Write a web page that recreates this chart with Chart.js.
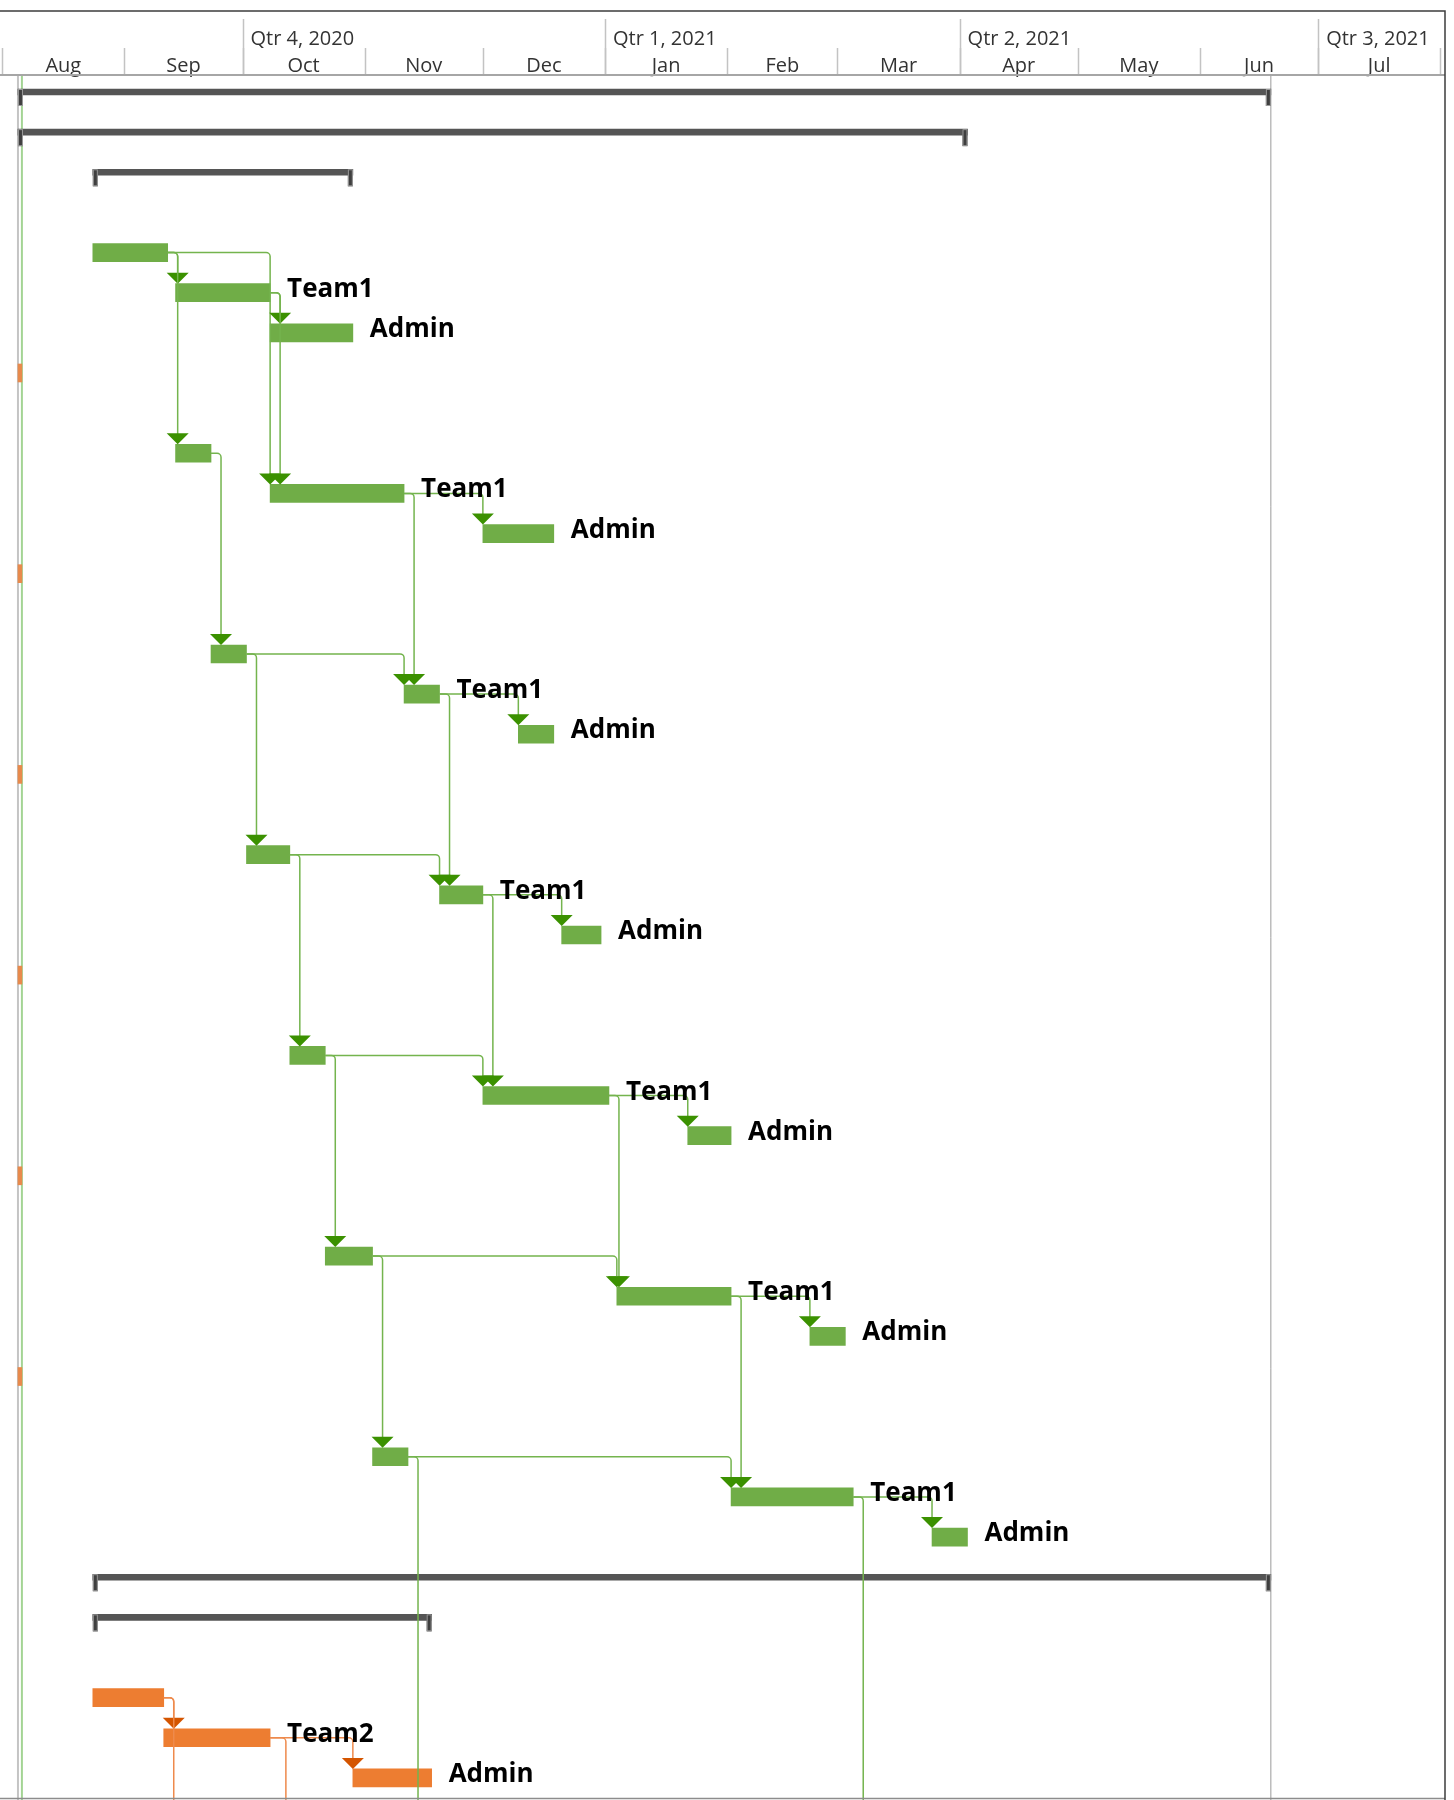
<!DOCTYPE html>
<html>
<head>
<meta charset="utf-8">
<title>Gantt</title>
<script src="https://cdn.jsdelivr.net/npm/chart.js@4.4.0/dist/chart.umd.min.js"></script>
<style>
  html, body { margin: 0; padding: 0; background: #fff; }
  #wrap { width: 1454px; height: 1800px; }
</style>
</head>
<body>
<div id="wrap"><canvas id="gantt" width="1454" height="1800"></canvas></div>
<script>
// timescale
const timelineStart = '2020-08-01';
const monthStarts = ['2020-08-01', '2020-09-01', '2020-10-01', '2020-11-01', '2020-12-01', '2021-01-01',
                     '2021-02-01', '2021-03-01', '2021-04-01', '2021-05-01', '2021-06-01', '2021-07-01', '2021-08-01'];
const monthLabels = ['Aug', 'Sep', 'Oct', 'Nov', 'Dec', 'Jan', 'Feb', 'Mar', 'Apr', 'May', 'Jun', 'Jul'];
const quarterStarts = ['2020-10-01', '2021-01-01', '2021-04-01', '2021-07-01'];
const quarterLabels = ['Qtr 4, 2020', 'Qtr 1, 2021', 'Qtr 2, 2021', 'Qtr 3, 2021'];

const projectStart = '2020-08-05';
const statusDate = '2020-08-06';
const projectFinish = '2021-06-19';

// summary tasks
const summaryRows  = [0, 1, 2, 37, 38];
const summaryStart = ['2020-08-05', '2020-08-05', '2020-08-24', '2020-08-24', '2020-08-24'];
const summaryEnd   = ['2021-06-19', '2021-04-03', '2020-10-29', '2021-06-19', '2020-11-18'];

// Team1 tasks (green), rows 48/49 lie below the visible area
const team1Rows  = [4, 5, 6, 9, 10, 11, 14, 15, 16, 19, 20, 21, 24, 25, 26, 29, 30, 31, 34, 35, 36, 48, 49];
const team1Start = ['2020-08-24', '2020-09-14', '2020-10-08',
                    '2020-09-14', '2020-10-08', '2020-12-01',
                    '2020-09-23', '2020-11-11', '2020-12-10',
                    '2020-10-02', '2020-11-20', '2020-12-21',
                    '2020-10-13', '2020-12-01', '2021-01-22',
                    '2020-10-22', '2021-01-04', '2021-02-22',
                    '2020-11-03', '2021-02-02', '2021-03-25',
                    '2020-11-12', '2021-03-05'];
const team1End   = ['2020-09-12', '2020-10-08', '2020-10-29',
                    '2020-09-23', '2020-11-11', '2020-12-19',
                    '2020-10-02', '2020-11-20', '2020-12-19',
                    '2020-10-13', '2020-12-01', '2020-12-31',
                    '2020-10-22', '2021-01-02', '2021-02-02',
                    '2020-11-03', '2021-02-02', '2021-03-03',
                    '2020-11-12', '2021-03-05', '2021-04-03',
                    '2020-11-21', '2021-04-06'];
const team1Labels = ['', 'Team1', 'Admin', '', 'Team1', 'Admin', '', 'Team1', 'Admin', '', 'Team1', 'Admin',
                     '', 'Team1', 'Admin', '', 'Team1', 'Admin', '', 'Team1', 'Admin', '', ''];
const team1Links = [[4, 5], [4, 9], [4, 10], [5, 6], [5, 10], [9, 14], [10, 11], [10, 15],
                    [14, 15], [14, 19], [15, 16], [15, 20], [19, 20], [19, 24], [20, 21], [20, 25],
                    [24, 25], [24, 29], [25, 26], [25, 30], [29, 30], [29, 34], [30, 31], [30, 35],
                    [34, 35], [34, 48], [35, 36], [35, 49]];

// Team2 tasks (orange)
const team2Rows   = [40, 41, 42, 45, 46];
const team2Start  = ['2020-08-24', '2020-09-11', '2020-10-29', '2020-09-11', '2020-10-12'];
const team2End    = ['2020-09-11', '2020-10-08', '2020-11-18', '2020-09-22', '2020-11-02'];
const team2Labels = ['', 'Team2', 'Admin', '', ''];
const team2Links  = [[40, 41], [40, 45], [41, 42], [41, 46]];

// small orange markers at project start
const markerRows  = [7, 12, 17, 22, 27, 32];
const markerStart = ['2020-08-05', '2020-08-05', '2020-08-05', '2020-08-05', '2020-08-05', '2020-08-05'];
const markerEnd   = ['2020-08-06', '2020-08-06', '2020-08-06', '2020-08-06', '2020-08-06', '2020-08-06'];

const T0 = Date.parse(timelineStart);
function day(s) { return (Date.parse(s) - T0) / 864e5; }

function toBars(rows, starts, ends) {
  return rows.map((r, i) => ({ x: [day(starts[i]), day(ends[i])], y: r }));
}

const TASK_H = 18;
const SUM_H = 6;
const FONT = '"Open Sans", "Noto Sans", sans-serif';

const team1 = { rows: team1Rows, start: team1Start, end: team1End, labels: team1Labels, links: team1Links,
                line: '#74b44e', arrow: '#3b9100' };
const team2 = { rows: team2Rows, start: team2Start, end: team2End, labels: team2Labels, links: team2Links,
                line: '#ee8a4c', arrow: '#d45500' };

const headerPlugin = {
  id: 'header',
  afterDraw(chart) {
    const ctx = chart.ctx, x = chart.scales.x, area = chart.chartArea;
    ctx.save();
    // month dividers and labels
    ctx.strokeStyle = '#c3c3c3';
    ctx.lineWidth = 1.5;
    monthStarts.forEach(m => {
      const px = Math.round(x.getPixelForValue(day(m))) + 0.5;
      ctx.beginPath(); ctx.moveTo(px, 48); ctx.lineTo(px, area.top); ctx.stroke();
    });
    quarterStarts.forEach(q => {
      const px = Math.round(x.getPixelForValue(day(q))) + 0.5;
      ctx.beginPath(); ctx.moveTo(px, 19); ctx.lineTo(px, area.top); ctx.stroke();
    });
    ctx.fillStyle = '#333';
    ctx.font = '20px ' + FONT;
    ctx.textBaseline = 'alphabetic';
    ctx.textAlign = 'center';
    monthLabels.forEach((lab, i) => {
      const a = x.getPixelForValue(day(monthStarts[i]));
      const b = x.getPixelForValue(day(monthStarts[i + 1]));
      ctx.fillText(lab, (a + b) / 2, 72);
    });
    ctx.textAlign = 'left';
    quarterLabels.forEach((lab, i) => {
      ctx.fillText(lab, x.getPixelForValue(day(quarterStarts[i])) + 8, 45);
    });
    // frame
    ctx.strokeStyle = '#a6a6a6';
    ctx.lineWidth = 2;
    ctx.beginPath(); ctx.moveTo(0, area.top); ctx.lineTo(area.right, area.top); ctx.stroke();
    ctx.strokeStyle = '#8c8c8c';
    ctx.lineWidth = 1.5;
    ctx.beginPath(); ctx.moveTo(0, 1798.5); ctx.lineTo(area.right, 1798.5); ctx.stroke();
    ctx.strokeStyle = '#3c3c3c';
    ctx.lineWidth = 1.5;
    ctx.beginPath(); ctx.moveTo(0, 11); ctx.lineTo(area.right, 11); ctx.lineTo(area.right, chart.height); ctx.stroke();
    ctx.restore();
  }
};

const guidePlugin = {
  id: 'guides',
  beforeDatasetsDraw(chart) {
    const ctx = chart.ctx, x = chart.scales.x, area = chart.chartArea;
    const vline = (d, color, w) => {
      const px = x.getPixelForValue(day(d));
      ctx.strokeStyle = color; ctx.lineWidth = w;
      ctx.beginPath(); ctx.moveTo(px, area.top); ctx.lineTo(px, area.bottom); ctx.stroke();
    };
    ctx.save();
    vline(projectStart, '#c4c4c4', 2);
    vline(statusDate, '#a3d494', 2);
    vline(projectFinish, '#9a9a9a', 1);
    ctx.restore();
  }
};

const capsPlugin = {
  id: 'caps',
  afterDatasetsDraw(chart) {
    const ctx = chart.ctx, x = chart.scales.x, y = chart.scales.y;
    ctx.save();
    ctx.fillStyle = '#3f3f3f';
    ctx.strokeStyle = '#9a9a9a';
    ctx.lineWidth = 1;
    summaryRows.forEach((r, i) => {
      const top = y.getPixelForValue(r) - SUM_H / 2;
      const a = x.getPixelForValue(day(summaryStart[i]));
      const b = x.getPixelForValue(day(summaryEnd[i]));
      [a, b - 5].forEach(px => {
        ctx.fillRect(px, top, 5, 17);
        ctx.strokeRect(px + 0.5, top + 0.5, 4, 16);
      });
    });
    ctx.restore();
  }
};

const linksPlugin = {
  id: 'links',
  afterDatasetsDraw(chart) {
    const ctx = chart.ctx, x = chart.scales.x, y = chart.scales.y, area = chart.chartArea;
    ctx.save();
    ctx.beginPath(); ctx.rect(area.left, area.top, area.right - area.left, area.bottom - area.top); ctx.clip();
    [team1, team2].forEach(team => {
      team.links.forEach(([p, s]) => {
        const ip = team.rows.indexOf(p), is = team.rows.indexOf(s);
        const pEnd = x.getPixelForValue(day(team.end[ip]));
        const pY = y.getPixelForValue(p);
        const sStart = x.getPixelForValue(day(team.start[is]));
        const sTop = y.getPixelForValue(s) - TASK_H / 2;
        const lx = Math.max(sStart, pEnd + 10);
        const r = 4;
        ctx.strokeStyle = team.line;
        ctx.lineWidth = 1.5;
        ctx.beginPath();
        ctx.moveTo(pEnd, pY);
        ctx.lineTo(lx - r, pY);
        ctx.arcTo(lx, pY, lx, pY + r, r);
        ctx.lineTo(lx, sTop - 10);
        ctx.stroke();
        ctx.fillStyle = team.arrow;
        ctx.beginPath();
        ctx.moveTo(lx - 11, sTop - 11);
        ctx.lineTo(lx + 11, sTop - 11);
        ctx.lineTo(lx, sTop);
        ctx.closePath();
        ctx.fill();
      });
    });
    ctx.restore();
  }
};

const labelsPlugin = {
  id: 'barLabels',
  afterDatasetsDraw(chart) {
    const ctx = chart.ctx, x = chart.scales.x, y = chart.scales.y;
    ctx.save();
    ctx.fillStyle = '#000';
    ctx.font = 'bold 26px ' + FONT;
    ctx.textAlign = 'left';
    ctx.textBaseline = 'alphabetic';
    [team1, team2].forEach(team => {
      team.labels.forEach((lab, i) => {
        if (!lab) return;
        ctx.fillText(lab, x.getPixelForValue(day(team.end[i])) + 17, y.getPixelForValue(team.rows[i]) + 4);
      });
    });
    ctx.restore();
  }
};

new Chart(document.getElementById('gantt').getContext('2d'), {
  type: 'bar',
  data: {
    datasets: [
      { label: 'Summary', data: toBars(summaryRows, summaryStart, summaryEnd),
        backgroundColor: '#555555', barThickness: SUM_H },
      { label: 'Team1', data: toBars(team1Rows, team1Start, team1End),
        backgroundColor: '#70ad47', barThickness: TASK_H },
      { label: 'Team2', data: toBars(team2Rows, team2Start, team2End),
        backgroundColor: '#ed7d31', barThickness: TASK_H },
      { label: 'Markers', data: toBars(markerRows, markerStart, markerEnd),
        backgroundColor: '#e88a4c', barThickness: TASK_H }
    ]
  },
  options: {
    responsive: false,
    animation: false,
    indexAxis: 'y',
    layout: { padding: { top: 75, right: 9, left: 0, bottom: 0 } },
    datasets: { bar: { grouped: false, clip: 0, borderWidth: 0 } },
    plugins: { legend: { display: false }, tooltip: { enabled: false } },
    scales: {
      x: { type: 'linear', min: -0.56, max: 366.2, offset: false, display: false },
      y: { type: 'linear', min: -0.4235, max: 42.55, reverse: true, offset: false, grace: 0,
           grid: { offset: false }, display: false }
    }
  },
  plugins: [guidePlugin, headerPlugin, capsPlugin, linksPlugin, labelsPlugin]
});
</script>
</body>
</html>
